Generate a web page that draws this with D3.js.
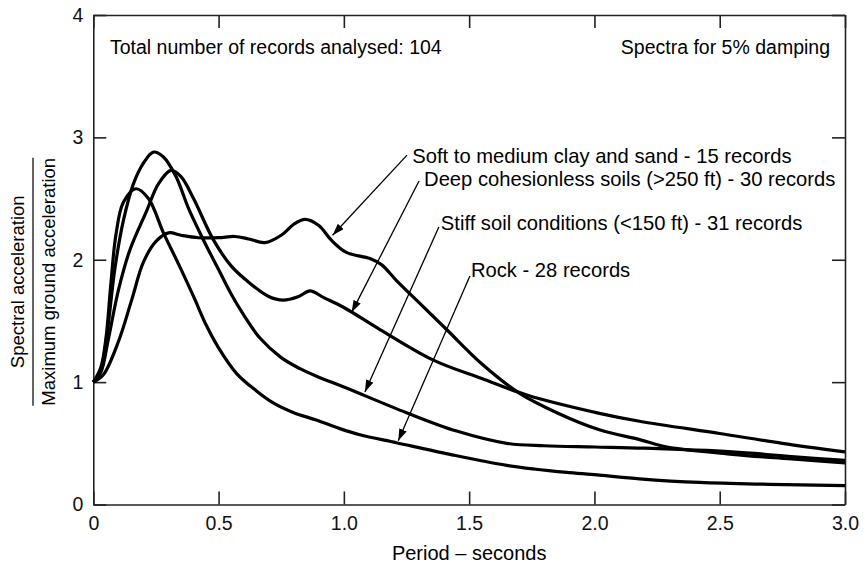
<!DOCTYPE html>
<html>
<head>
<meta charset="utf-8">
<script src="https://cdn.jsdelivr.net/npm/d3@7"></script>
<style>
  body { margin: 0; background: #fff; }
  svg { font-family: 'Liberation Sans', Arial, Helvetica, sans-serif; }
</style>
</head>
<body>
<div id="chart"></div>
<script>
const svgWidth = 865;
const svgHeight = 570;

// spectral ratio curves (period in seconds, Sa / PGA)
const softPeriod = [0, 0.04, 0.1, 0.153, 0.2, 0.25, 0.3, 0.35, 0.42, 0.5, 0.565, 0.62, 0.685, 0.75, 0.8, 0.845, 0.9, 0.95, 1.01, 1.104, 1.15, 1.21, 1.3, 1.41, 1.55, 1.7, 1.85, 2.02, 2.18, 2.29, 2.55, 2.8, 3.0];
const softRatio = [1, 1.06, 1.33, 1.67, 1.98, 2.15, 2.22, 2.2, 2.18, 2.18, 2.19, 2.17, 2.14, 2.2, 2.29, 2.33, 2.28, 2.16, 2.06, 2.01, 1.96, 1.83, 1.65, 1.43, 1.15, 0.91, 0.75, 0.61, 0.53, 0.47, 0.41, 0.37, 0.34];

const deepPeriod = [0, 0.03, 0.06, 0.1, 0.146, 0.213, 0.26, 0.31, 0.35, 0.4, 0.48, 0.55, 0.612, 0.7, 0.758, 0.82, 0.865, 0.92, 1.0, 1.144, 1.357, 1.55, 1.73, 2.02, 2.18, 2.5, 2.75, 3.0];
const deepRatio = [1, 1.08, 1.35, 1.75, 2.08, 2.4, 2.62, 2.73, 2.68, 2.5, 2.16, 1.95, 1.83, 1.7, 1.67, 1.7, 1.745, 1.69, 1.61, 1.43, 1.18, 1.03, 0.895, 0.745, 0.68, 0.58, 0.5, 0.43];

const stiffPeriod = [0, 0.03, 0.055, 0.087, 0.12, 0.16, 0.2, 0.24, 0.28, 0.33, 0.38, 0.44, 0.5, 0.55, 0.6, 0.665, 0.75, 0.825, 0.9, 1.0, 1.25, 1.45, 1.65, 1.8, 2.0, 2.2, 2.55, 2.8, 3.0];
const stiffRatio = [1, 1.1, 1.4, 1.94, 2.32, 2.62, 2.79, 2.88, 2.84, 2.68, 2.42, 2.16, 1.92, 1.72, 1.55, 1.36, 1.2, 1.11, 1.04, 0.96, 0.75, 0.6, 0.5, 0.48, 0.47, 0.46, 0.43, 0.39, 0.36];

const rockPeriod = [0, 0.03, 0.05, 0.07, 0.09, 0.12, 0.17, 0.22, 0.28, 0.346, 0.4, 0.452, 0.5, 0.572, 0.65, 0.718, 0.8, 0.89, 0.984, 1.064, 1.21, 1.4, 1.65, 1.9, 2.02, 2.18, 2.42, 2.7, 3.0];
const rockRatio = [1, 1.12, 1.35, 1.8, 2.2, 2.47, 2.58, 2.5, 2.22, 1.94, 1.7, 1.46, 1.28, 1.07, 0.93, 0.83, 0.75, 0.69, 0.62, 0.57, 0.505, 0.42, 0.32, 0.26, 0.24, 0.21, 0.18, 0.165, 0.155];

const xTicks = [0, 0.5, 1.0, 1.5, 2.0, 2.5, 3.0];
const xTickLabels = ['0', '0.5', '1.0', '1.5', '2.0', '2.5', '3.0'];
const yTicks = [0, 1, 2, 3, 4];

// labels with arrows, in data units: text anchor, arrow start, arrow tip
const labelText = [
  'Soft to medium clay and sand - 15 records',
  'Deep cohesionless soils (>250 ft) - 30 records',
  'Stiff soil conditions (<150 ft) - 31 records',
  'Rock - 28 records',
];
const labelAt = [[1.273, 2.79], [1.32, 2.603], [1.387, 2.243], [1.507, 1.859]];
const arrowFrom = [[1.252, 2.855], [1.3, 2.643], [1.379, 2.267], [1.503, 1.867]];
const arrowTo = [[0.955, 2.2], [1.031, 1.57], [1.084, 0.92], [1.217, 0.52]];

const margin = { left: 93.3, right: 20, top: 15, bottom: 65.5 };

const svg = d3.select('#chart').append('svg').attr('width', svgWidth).attr('height', svgHeight);

const x = d3.scaleLinear().domain([0, 3]).range([margin.left, svgWidth - margin.right]);
const y = d3.scaleLinear().domain([0, 4]).range([svgHeight - margin.bottom, margin.top]);

const TICK = 13;

const drawAxes = () => {
  const bottom = svg.append('g')
    .attr('transform', `translate(0, ${y(0)})`)
    .call(d3.axisBottom(x).tickValues(xTicks).tickFormat((d, i) => xTickLabels[i]).tickSizeInner(-TICK).tickSizeOuter(0).tickPadding(12));
  const left = svg.append('g')
    .attr('transform', `translate(${x(0)}, 0)`)
    .call(d3.axisLeft(y).tickValues(yTicks).tickFormat(d3.format('d')).tickSizeInner(-TICK).tickSizeOuter(0).tickPadding(10));
  const top = svg.append('g')
    .attr('transform', `translate(0, ${y(4)})`)
    .call(d3.axisTop(x).tickValues(xTicks).tickFormat('').tickSizeInner(-TICK).tickSizeOuter(0));
  const right = svg.append('g')
    .attr('transform', `translate(${x(3)}, 0)`)
    .call(d3.axisRight(y).tickValues(yTicks).tickFormat('').tickSizeInner(-TICK).tickSizeOuter(0));

  [bottom, left, top, right].forEach((g) => {
    g.selectAll('path, line').attr('stroke', '#222').attr('stroke-width', 1.6);
    g.selectAll('text').attr('fill', '#111').style('font-size', '19.5px');
  });

  svg.append('text')
    .attr('x', x(1.5))
    .attr('y', 560)
    .attr('text-anchor', 'middle')
    .style('font-size', '20px')
    .text('Period – seconds');

  // fraction style y label
  const yl = svg.append('g').attr('transform', `translate(0, ${(y(0) + y(4)) / 2 + 22}) rotate(-90)`);
  yl.append('text')
    .attr('x', 0)
    .attr('y', 24)
    .attr('text-anchor', 'middle')
    .style('font-size', '18.5px')
    .text('Spectral acceleration');
  yl.append('line')
    .attr('x1', -124)
    .attr('x2', 124)
    .attr('y1', 33)
    .attr('y2', 33)
    .attr('stroke', '#111')
    .attr('stroke-width', 1.3);
  yl.append('text')
    .attr('x', 0)
    .attr('y', 55)
    .attr('text-anchor', 'middle')
    .style('font-size', '18.5px')
    .text('Maximum ground acceleration');
};

const drawCurves = () => {
  const line = d3.line()
    .x((d) => x(d[0]))
    .y((d) => y(d[1]))
    .curve(d3.curveCatmullRom.alpha(0.5));

  const series = [
    [softPeriod, softRatio],
    [deepPeriod, deepRatio],
    [stiffPeriod, stiffRatio],
    [rockPeriod, rockRatio],
  ];

  svg.append('g')
    .selectAll('path')
    .data(series.map(([t, r]) => t.map((p, i) => [p, r[i]])))
    .join('path')
    .attr('fill', 'none')
    .attr('stroke', '#000')
    .attr('stroke-width', 3.2)
    .attr('stroke-linejoin', 'round')
    .attr('d', line);
};

const drawNotes = () => {
  svg.append('defs')
    .append('marker')
    .attr('id', 'head')
    .attr('viewBox', '0 0 12 8')
    .attr('refX', 12)
    .attr('refY', 4)
    .attr('markerWidth', 12)
    .attr('markerHeight', 8)
    .attr('markerUnits', 'userSpaceOnUse')
    .attr('orient', 'auto')
    .append('path')
    .attr('d', 'M0,0 L12,4 L0,8 Z')
    .attr('fill', '#000');

  labelText.forEach((t, i) => {
    svg.append('line')
      .attr('x1', x(arrowFrom[i][0]))
      .attr('y1', y(arrowFrom[i][1]))
      .attr('x2', x(arrowTo[i][0]))
      .attr('y2', y(arrowTo[i][1]))
      .attr('stroke', '#000')
      .attr('stroke-width', 1.3)
      .attr('marker-end', 'url(#head)');

    svg.append('text')
      .attr('x', x(labelAt[i][0]))
      .attr('y', y(labelAt[i][1]))
      .style('font-size', '20.2px')
      .text(t);
  });

  svg.append('text')
    .attr('x', 110)
    .attr('y', 54)
    .style('font-size', '19.5px')
    .text('Total number of records analysed: 104');

  svg.append('text')
    .attr('x', 830)
    .attr('y', 54)
    .attr('text-anchor', 'end')
    .style('font-size', '19.5px')
    .text('Spectra for 5% damping');
};

drawAxes();
drawCurves();
drawNotes();
</script>
</body>
</html>
